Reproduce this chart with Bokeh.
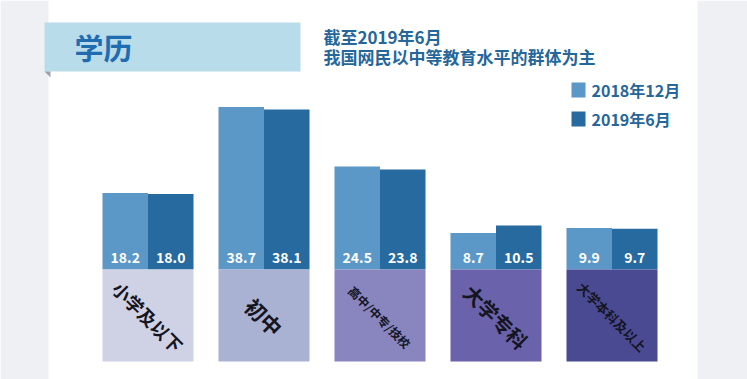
import math
from bokeh.plotting import figure
from bokeh.models import Range1d, ColumnDataSource
from bokeh.core.properties import value
from bokeh.embed import file_html
from bokeh.resources import INLINE

# ---------------- data ----------------
categories = ["小学及以下", "初中", "高中/中专/技校", "大学专科", "大学本科及以上"]
dec2018 = [18.2, 38.7, 24.5, 8.7, 9.9]
jun2019 = [18.0, 38.1, 23.8, 10.5, 9.7]
series_names = ["2018年12月", "2019年6月"]
title_text = "学历"
subtitle_lines = ["截至2019年6月", "我国网民以中等教育水平的群体为主"]

# ---------------- styles / layout ----------------
W, H = 747, 379
OFF = 0           # page offset of the figure
FONT = "Noto Sans CJK SC"
C_LIGHT = "#5b97c7"
C_DARK = "#276a9f"
BOX_COLORS = ["#cfd1e4", "#aab2d4", "#8985bf", "#6a63ab", "#4a4a93"]
LABEL_SIZES = ["18px", "21px", "12px", "20px", "13px"]
TEXT_BLUE = "#25669b"

PX_X = 116.0      # pixels per category
PX_Y = 4.2        # pixels per percentage point
X0_SCREEN = 147.5 # screen x of first group center
BASE_SCREEN = 269 # screen y of baseline
X_START = -(X0_SCREEN - OFF) / PX_X
Y_START = -((OFF + H) - BASE_SCREEN) / PX_Y


def sx(px):
    return X_START + (px - OFF) / PX_X


def sy(py):
    return Y_START + ((OFF + H) - py) / PX_Y


p = figure(width=W, height=H, output_backend="svg", toolbar_location=None,
           x_range=Range1d(X_START, X_START + W / PX_X),
           y_range=Range1d(Y_START, Y_START + H / PX_Y),
           min_border=0)
p.axis.visible = False
p.grid.visible = False
p.outline_line_color = None
p.background_fill_color = "white"
p.border_fill_color = "white"

# side strips
p.quad(left=[sx(0), sx(697)], right=[sx(48), sx(747)],
       bottom=[sy(379)] * 2, top=[sy(0)] * 2, color="#eff0f4", line_color=None)

# title banner
p.quad(left=[sx(44)], right=[sx(300)], bottom=[sy(71)], top=[sy(22)],
       color="#b9dcea", line_color=None)
p.patch([sx(44), sx(50), sx(50)], [sy(71), sy(71), sy(77)], color="#9aa3ab", line_color=None)
p.text(x=[sx(74)], y=[sy(46)], text=[title_text], text_font=value(FONT),
       text_font_style="bold", text_font_size="29px", text_color="#1f6cb0",
       text_baseline="middle", text_align="left")

# subtitle
p.text(x=[sx(323)] * 2, y=[sy(36), sy(56)], text=subtitle_lines, text_font=value(FONT),
       text_font_style="bold", text_font_size="17px", text_color=TEXT_BLUE,
       text_baseline="middle", text_align="left")

# legend
p.quad(left=[sx(571)] * 2, right=[sx(585)] * 2, bottom=[sy(97), sy(126)],
       top=[sy(82), sy(111)], color=[C_LIGHT, C_DARK], line_color=None)
p.text(x=[sx(591)] * 2, y=[sy(89), sy(118)], text=series_names, text_font=value(FONT),
       text_font_style="bold", text_font_size="16px", text_color=TEXT_BLUE,
       text_baseline="middle", text_align="left")

# bars
idx = list(range(len(categories)))
bw = 45.5 / PX_X
src = ColumnDataSource(dict(
    x=idx, a=dec2018, b=jun2019,
    xa=[i - bw / 2 for i in idx], xb=[i + bw / 2 for i in idx],
    la=[f"{v:.1f}" for v in dec2018], lb=[f"{v:.1f}" for v in jun2019],
    cat=categories, boxc=BOX_COLORS, fs=LABEL_SIZES))

p.vbar(x="xa", top="a", bottom=0, width=bw, color=C_LIGHT, line_color=None, source=src)
p.vbar(x="xb", top="b", bottom=0, width=bw, color=C_DARK, line_color=None, source=src)

lab_y = 12 / PX_Y
p.text(x="xa", y=lab_y, text="la", source=src, text_font=value(FONT), text_font_style="bold",
       text_font_size="14px", text_color="white", text_align="center", text_baseline="middle")
p.text(x="xb", y=lab_y, text="lb", source=src, text_font=value(FONT), text_font_style="bold",
       text_font_size="14px", text_color="white", text_align="center", text_baseline="middle")

# category boxes
box_bottom = sy(361)
p.vbar(x="x", top=0, bottom=box_bottom, width=2 * bw, color="boxc", line_color=None, source=src)
p.text(x="x", y=box_bottom / 2 - 0.3, text="cat", source=src, text_font=value(FONT),
       text_font_style="bold", text_font_size="fs", text_color="#15151f",
       angle=-math.pi / 4, text_align="center", text_baseline="middle")

open("out.html", "w").write(file_html(p, INLINE))
